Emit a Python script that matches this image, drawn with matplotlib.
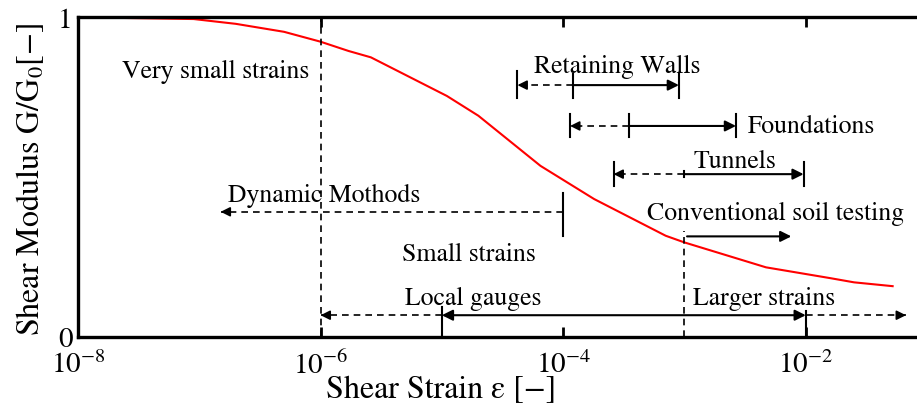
import numpy as np
import matplotlib
matplotlib.use('Agg')
from matplotlib import pyplot as plt

plt.rcParams['font.family'] = ['STIXGeneral', 'Liberation Serif', 'DejaVu Serif']
plt.rcParams['mathtext.fontset'] = 'stix'

# modulus reduction curve
strain = [1.3e-8, 9e-8, 2e-7, 5e-7, 1e-6, 1.7e-6, 2.6e-6, 1.1e-5, 2e-5,
          6.5e-5, 1.8e-4, 7e-4, 1e-3, 4.7e-3, 1.6e-2, 2.5e-2, 5.2e-2]
g_ratio = [1.0, 0.995, 0.98, 0.955, 0.924, 0.895, 0.875, 0.754, 0.692,
           0.535, 0.431, 0.316, 0.295, 0.217, 0.183, 0.17, 0.158]

x_ticks = [1e-8, 1e-6, 1e-4, 1e-2]
x_tick_labels = [r'$10^{-8}$', r'$10^{-6}$', r'$10^{-4}$', r'$10^{-2}$']

# ranges: (start, split, end, y)  dashed start->split, solid split->end
retaining = (4.2e-5, 1.2e-4, 9e-4, 0.788)
foundations = (1.14e-4, 3.5e-4, 2.66e-3, 0.66)
tunnels = (2.6e-4, 1e-3, 9.6e-3, 0.509)
dynamic = (1e-4, 1.5e-7, 0.391)
conventional = (1e-3, 7.6e-3, 0.314)
local_gauges = (1e-6, 1e-5, 1e-2, 6.7e-2, 0.067)

FS = 18.5


def head(ax, x_from, x_to, y, lw=1.2):
    # short solid segment carrying only the arrow head
    ax.annotate('', xy=(x_to, y), xytext=(x_from, y),
                arrowprops=dict(arrowstyle='-|>', color='k', lw=lw,
                                mutation_scale=14, shrinkA=0, shrinkB=0))


def bar(ax, x, y0, y1, lw=1.5):
    ax.plot([x, x], [y0, y1], color='k', lw=lw)


def dashed(ax, x0, x1, y):
    ax.plot([x0, x1], [y, y], color='k', lw=1.2, ls=(0, (4, 3)))
    f = 1.12 if x1 < x0 else 1 / 1.12
    head(ax, x1 * f, x1, y)


def solid(ax, x0, x1, y, style='-|>'):
    ax.annotate('', xy=(x1, y), xytext=(x0, y),
                arrowprops=dict(arrowstyle=style, color='k', lw=1.5,
                                mutation_scale=16, shrinkA=0, shrinkB=0))


fig = plt.figure(figsize=(9.17, 4.10), dpi=100)
ax = fig.add_axes([0.085, 0.1766, 0.926, 0.7784])

ax.plot(strain, g_ratio, color='red', lw=1.5)

ax.set_xscale('log')
ax.set_xlim(1e-8, 1e-1)
ax.set_ylim(0, 1)
ax.set_xticks(x_ticks)
ax.set_xticklabels(x_tick_labels)
ax.minorticks_off()
ax.set_yticks([0, 1])
ax.set_yticklabels(['0', '1'])
ax.tick_params(direction='in', length=7, width=2, labelsize=21,
               top=True, right=False)
ax.tick_params(axis='x', pad=10)
ax.tick_params(axis='y', pad=4)
for s in ax.spines.values():
    s.set_linewidth(2.4)

ax.set_xlabel('Shear Strain ε [\u2212]', fontsize=23)
ax.xaxis.set_label_coords(0.4276, -0.12)
ax.set_ylabel('Shear Modulus G/G$_0$[\u2212]', fontsize=23)
ax.yaxis.set_label_coords(-0.038, 0.497)

# vertical guides
ax.plot([1e-6, 1e-6], [0, 1], color='k', lw=1.2, ls=(0, (4, 3)))
ax.plot([1e-3, 1e-3], [0, 0.33], color='k', lw=1.2, ls=(0, (4, 3)))

# retaining walls
x0, xm, x1, y = retaining
dashed(ax, xm, x0, y)
solid(ax, xm, x1, y)
bar(ax, x0, y - 0.04, y + 0.045)
bar(ax, xm, y - 0.04, y + 0.034)
bar(ax, x1, y - 0.04, y + 0.034)
ax.text(2.77e-4, 0.83, 'Retaining Walls', fontsize=FS, ha='center', va='baseline')

# foundations
x0, xm, x1, y = foundations
dashed(ax, xm, x0, y)
solid(ax, xm, x1, y)
for xx in (x0, xm, x1):
    bar(ax, xx, y - 0.034, y + 0.037)
ax.text(3.3e-3, 0.64, 'Foundations', fontsize=FS, ha='left', va='baseline')

# tunnels
x0, xm, x1, y = tunnels
dashed(ax, xm, x0, y)
solid(ax, xm, x1, y)
bar(ax, x0, y - 0.038, y + 0.038)
bar(ax, xm, y - 0.01, y + 0.01)
bar(ax, x1, y - 0.038, y + 0.038)
ax.text(2.62e-3, 0.53, 'Tunnels', fontsize=FS, ha='center', va='baseline')

# dynamic methods
x0, x1, y = dynamic
dashed(ax, x0, x1, y)
bar(ax, x0, y - 0.075, y + 0.058)
ax.text(1.06e-6, 0.4256, 'Dynamic Mothods', fontsize=FS, ha='center', va='baseline')

# conventional soil testing
x0, x1, y = conventional
solid(ax, x0 * 1.05, x1, y)
ax.text(5.6e-3, 0.37, 'Conventional soil testing', fontsize=FS,
        ha='center', va='baseline')

# local gauges / larger strains
x0, xa, xb, x1, y = local_gauges
dashed(ax, xa, x0, y)
solid(ax, xa, xb, y, style='<|-|>')
dashed(ax, xb, x1, y)
bar(ax, xa, 0.0, 0.092)
bar(ax, xb, 0.0, 0.081)
ax.text(1.8e-5, 0.102, 'Local gauges', fontsize=FS, ha='center', va='baseline')
ax.text(4.55e-3, 0.102, 'Larger strains', fontsize=FS, ha='center', va='baseline')

ax.text(1.37e-7, 0.813, 'Very small strains', fontsize=FS, ha='center', va='baseline')
ax.text(1.67e-5, 0.241, 'Small strains', fontsize=FS, ha='center', va='baseline')

fig.savefig('out.png', dpi=100)
